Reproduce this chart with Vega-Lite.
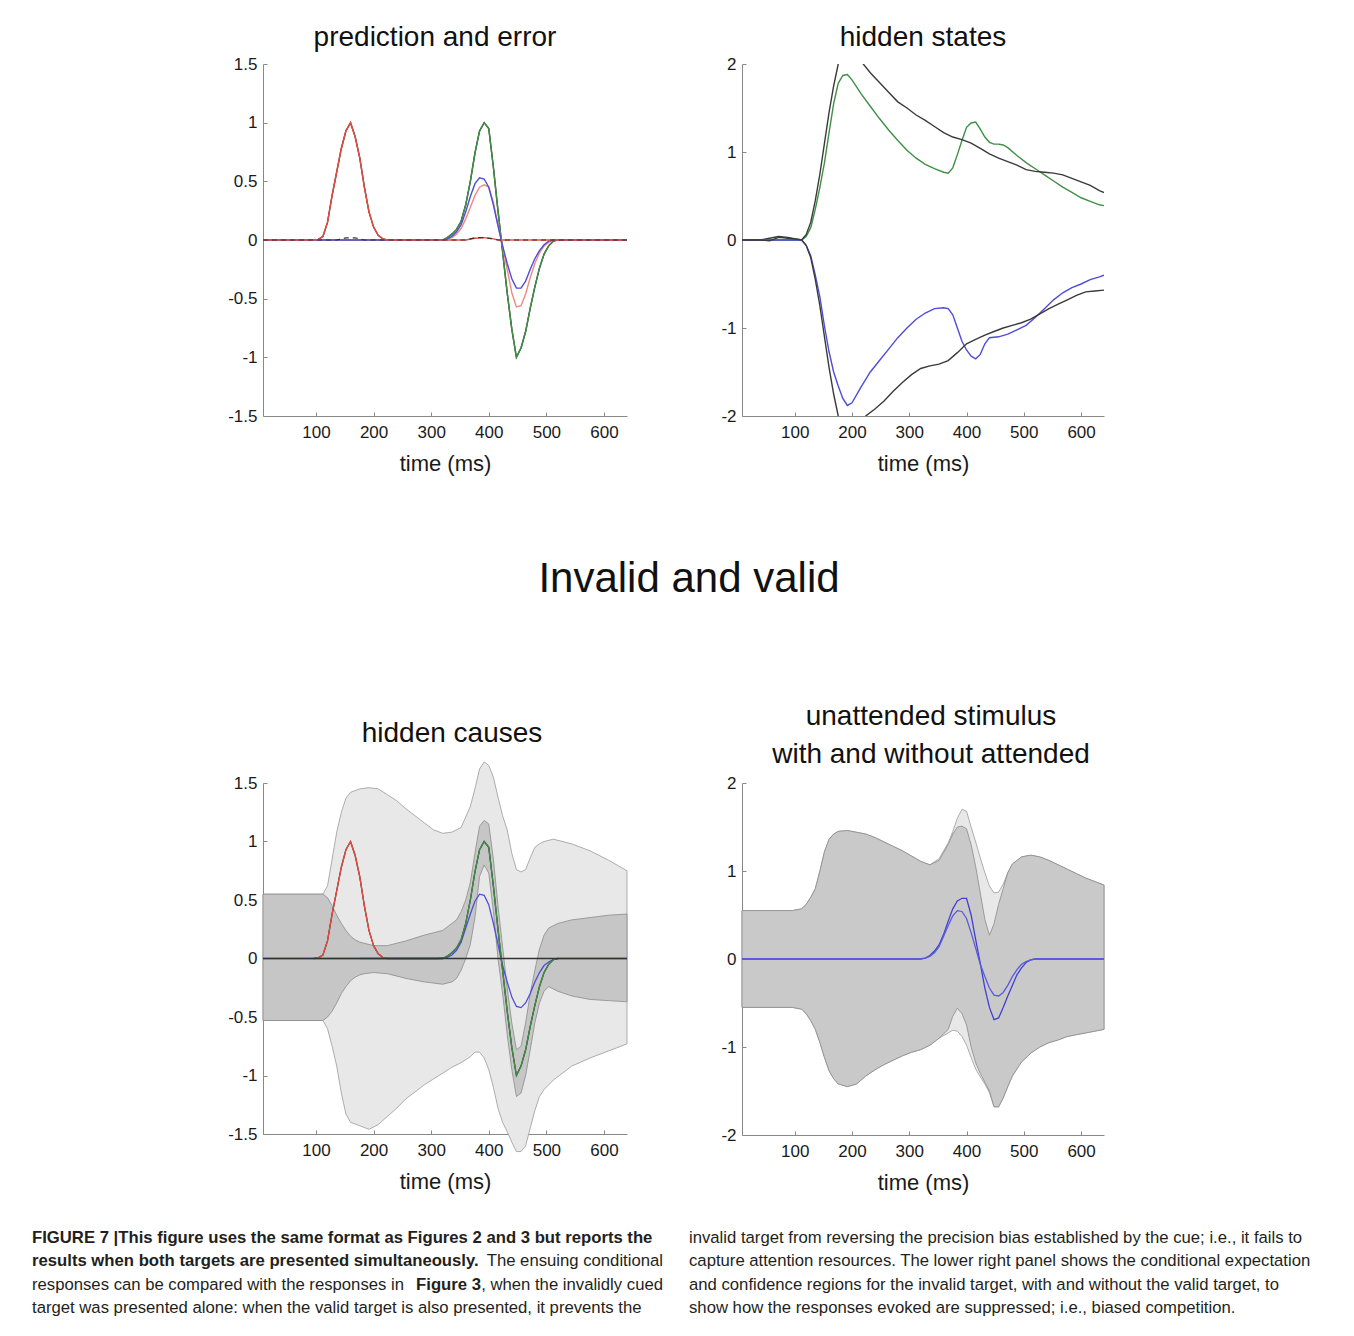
{
"$schema": "https://vega.github.io/schema/vega-lite/v6.json",
"padding": {"left": 32, "top": 24, "right": 0, "bottom": 0},
"background": "white",
"spacing": 24,
"config": {
  "view": {"stroke": null},
  "font": "Liberation Sans",
  "axis": {"domainColor": "#888888", "tickColor": "#888888", "tickSize": -4, "labelFontSize": 17, "labelColor": "#1a1a1a", "titleFontSize": 22, "titleFontWeight": "normal", "titleColor": "#1a1a1a", "grid": false, "labelFont": "Liberation Sans", "titleFont": "Liberation Sans"},
  "axisX": {"labelPadding": 12, "titlePadding": 13},
  "axisY": {"labelPadding": 10},
  "title": {"fontSize": 28, "fontWeight": "normal", "color": "#111111", "font": "Liberation Sans", "anchor": "middle", "frame": "group", "baseline": "alphabetic"},
  "text": {"font": "Liberation Sans"}
},
"datasets": {
"A": [
{"t":8,"s":"black","v":0},{"t":96,"s":"black","v":0},{"t":104,"s":"black","v":0.005},{"t":112,"s":"black","v":0.03},{"t":120,"s":"black","v":0.15},{"t":128,"s":"black","v":0.38},{"t":136,"s":"black","v":0.58},{"t":144,"s":"black","v":0.78},{"t":152,"s":"black","v":0.93},{"t":160,"s":"black","v":1.0},{"t":168,"s":"black","v":0.88},{"t":176,"s":"black","v":0.7},{"t":184,"s":"black","v":0.45},{"t":192,"s":"black","v":0.24},{"t":200,"s":"black","v":0.11},{"t":208,"s":"black","v":0.04},{"t":216,"s":"black","v":0.01},{"t":224,"s":"black","v":0},{"t":320,"s":"black","v":0},{"t":328,"s":"black","v":0.02},{"t":336,"s":"black","v":0.05},{"t":344,"s":"black","v":0.09},{"t":352,"s":"black","v":0.16},{"t":360,"s":"black","v":0.3},{"t":368,"s":"black","v":0.5},{"t":376,"s":"black","v":0.74},{"t":384,"s":"black","v":0.93},{"t":392,"s":"black","v":1.0},{"t":400,"s":"black","v":0.95},{"t":408,"s":"black","v":0.62},{"t":416,"s":"black","v":0.25},{"t":424,"s":"black","v":-0.1},{"t":432,"s":"black","v":-0.45},{"t":440,"s":"black","v":-0.76},{"t":448,"s":"black","v":-1.0},{"t":456,"s":"black","v":-0.92},{"t":464,"s":"black","v":-0.78},{"t":472,"s":"black","v":-0.58},{"t":480,"s":"black","v":-0.4},{"t":488,"s":"black","v":-0.24},{"t":496,"s":"black","v":-0.12},{"t":504,"s":"black","v":-0.05},{"t":512,"s":"black","v":-0.01},{"t":520,"s":"black","v":0},{"t":640,"s":"black","v":0},
{"t":8,"s":"green","v":0},{"t":320,"s":"green","v":0},{"t":328,"s":"green","v":0.02},{"t":336,"s":"green","v":0.05},{"t":344,"s":"green","v":0.09},{"t":352,"s":"green","v":0.16},{"t":360,"s":"green","v":0.3},{"t":368,"s":"green","v":0.5},{"t":376,"s":"green","v":0.74},{"t":384,"s":"green","v":0.93},{"t":392,"s":"green","v":1.0},{"t":400,"s":"green","v":0.95},{"t":408,"s":"green","v":0.62},{"t":416,"s":"green","v":0.25},{"t":424,"s":"green","v":-0.1},{"t":432,"s":"green","v":-0.45},{"t":440,"s":"green","v":-0.76},{"t":448,"s":"green","v":-1.0},{"t":456,"s":"green","v":-0.92},{"t":464,"s":"green","v":-0.78},{"t":472,"s":"green","v":-0.58},{"t":480,"s":"green","v":-0.4},{"t":488,"s":"green","v":-0.24},{"t":496,"s":"green","v":-0.12},{"t":504,"s":"green","v":-0.05},{"t":512,"s":"green","v":-0.01},{"t":520,"s":"green","v":0},{"t":640,"s":"green","v":0},
{"t":8,"s":"pink","v":0},{"t":320,"s":"pink","v":0},{"t":328,"s":"pink","v":0.01},{"t":336,"s":"pink","v":0.02},{"t":344,"s":"pink","v":0.05},{"t":352,"s":"pink","v":0.1},{"t":360,"s":"pink","v":0.18},{"t":368,"s":"pink","v":0.28},{"t":376,"s":"pink","v":0.38},{"t":384,"s":"pink","v":0.45},{"t":392,"s":"pink","v":0.47},{"t":400,"s":"pink","v":0.45},{"t":408,"s":"pink","v":0.32},{"t":416,"s":"pink","v":0.13},{"t":424,"s":"pink","v":-0.05},{"t":432,"s":"pink","v":-0.25},{"t":440,"s":"pink","v":-0.45},{"t":448,"s":"pink","v":-0.57},{"t":456,"s":"pink","v":-0.56},{"t":464,"s":"pink","v":-0.46},{"t":472,"s":"pink","v":-0.32},{"t":480,"s":"pink","v":-0.2},{"t":488,"s":"pink","v":-0.11},{"t":496,"s":"pink","v":-0.05},{"t":504,"s":"pink","v":-0.02},{"t":512,"s":"pink","v":0},{"t":640,"s":"pink","v":0},
{"t":8,"s":"blue","v":0},{"t":320,"s":"blue","v":0},{"t":328,"s":"blue","v":0.01},{"t":336,"s":"blue","v":0.03},{"t":344,"s":"blue","v":0.07},{"t":352,"s":"blue","v":0.13},{"t":360,"s":"blue","v":0.24},{"t":368,"s":"blue","v":0.37},{"t":376,"s":"blue","v":0.48},{"t":384,"s":"blue","v":0.53},{"t":392,"s":"blue","v":0.52},{"t":400,"s":"blue","v":0.45},{"t":408,"s":"blue","v":0.3},{"t":416,"s":"blue","v":0.12},{"t":424,"s":"blue","v":-0.05},{"t":432,"s":"blue","v":-0.2},{"t":440,"s":"blue","v":-0.33},{"t":448,"s":"blue","v":-0.41},{"t":456,"s":"blue","v":-0.41},{"t":464,"s":"blue","v":-0.35},{"t":472,"s":"blue","v":-0.25},{"t":480,"s":"blue","v":-0.16},{"t":488,"s":"blue","v":-0.09},{"t":496,"s":"blue","v":-0.04},{"t":504,"s":"blue","v":-0.01},{"t":512,"s":"blue","v":0},{"t":640,"s":"blue","v":0},
{"t":8,"s":"red","v":0},{"t":96,"s":"red","v":0},{"t":104,"s":"red","v":0.005},{"t":112,"s":"red","v":0.03},{"t":120,"s":"red","v":0.15},{"t":128,"s":"red","v":0.38},{"t":136,"s":"red","v":0.58},{"t":144,"s":"red","v":0.78},{"t":152,"s":"red","v":0.93},{"t":160,"s":"red","v":1.0},{"t":168,"s":"red","v":0.88},{"t":176,"s":"red","v":0.7},{"t":184,"s":"red","v":0.45},{"t":192,"s":"red","v":0.24},{"t":200,"s":"red","v":0.11},{"t":208,"s":"red","v":0.04},{"t":216,"s":"red","v":0.01},{"t":224,"s":"red","v":0},{"t":360,"s":"red","v":0},{"t":376,"s":"red","v":0.015},{"t":392,"s":"red","v":0.02},{"t":408,"s":"red","v":0.01},{"t":416,"s":"red","v":0},{"t":640,"s":"red","v":0},
{"t":8,"s":"err","v":0},{"t":136,"s":"err","v":0},{"t":144,"s":"err","v":0.01},{"t":152,"s":"err","v":0.018},{"t":168,"s":"err","v":0.018},{"t":176,"s":"err","v":0.008},{"t":184,"s":"err","v":0},{"t":360,"s":"err","v":0},{"t":368,"s":"err","v":0.01},{"t":376,"s":"err","v":0.02},{"t":392,"s":"err","v":0.02},{"t":408,"s":"err","v":0.01},{"t":416,"s":"err","v":0},{"t":640,"s":"err","v":0}
],
"B": [
{"t":8,"s":"cyan","v":0},{"t":112,"s":"cyan","v":0},
{"t":8,"s":"green","v":0},{"t":112,"s":"green","v":0},{"t":120,"s":"green","v":0.04},{"t":128,"s":"green","v":0.14},{"t":136,"s":"green","v":0.35},{"t":144,"s":"green","v":0.6},{"t":152,"s":"green","v":0.88},{"t":160,"s":"green","v":1.22},{"t":168,"s":"green","v":1.55},{"t":176,"s":"green","v":1.78},{"t":184,"s":"green","v":1.87},{"t":192,"s":"green","v":1.88},{"t":200,"s":"green","v":1.82},{"t":216,"s":"green","v":1.66},{"t":232,"s":"green","v":1.52},{"t":248,"s":"green","v":1.38},{"t":264,"s":"green","v":1.25},{"t":280,"s":"green","v":1.13},{"t":296,"s":"green","v":1.02},{"t":312,"s":"green","v":0.93},{"t":328,"s":"green","v":0.86},{"t":344,"s":"green","v":0.81},{"t":360,"s":"green","v":0.77},{"t":368,"s":"green","v":0.76},{"t":376,"s":"green","v":0.82},{"t":384,"s":"green","v":0.97},{"t":392,"s":"green","v":1.13},{"t":400,"s":"green","v":1.28},{"t":408,"s":"green","v":1.33},{"t":416,"s":"green","v":1.34},{"t":424,"s":"green","v":1.26},{"t":432,"s":"green","v":1.17},{"t":440,"s":"green","v":1.11},{"t":448,"s":"green","v":1.09},{"t":456,"s":"green","v":1.09},{"t":464,"s":"green","v":1.08},{"t":472,"s":"green","v":1.05},{"t":488,"s":"green","v":0.96},{"t":504,"s":"green","v":0.88},{"t":520,"s":"green","v":0.81},{"t":536,"s":"green","v":0.74},{"t":552,"s":"green","v":0.67},{"t":568,"s":"green","v":0.6},{"t":584,"s":"green","v":0.54},{"t":600,"s":"green","v":0.48},{"t":616,"s":"green","v":0.44},{"t":632,"s":"green","v":0.4},{"t":640,"s":"green","v":0.39},
{"t":8,"s":"blackU","v":0},{"t":40,"s":"blackU","v":0},{"t":56,"s":"blackU","v":0.02},{"t":72,"s":"blackU","v":0.04},{"t":88,"s":"blackU","v":0.03},{"t":104,"s":"blackU","v":0.01},{"t":112,"s":"blackU","v":0},{"t":120,"s":"blackU","v":0.06},{"t":128,"s":"blackU","v":0.2},{"t":136,"s":"blackU","v":0.45},{"t":144,"s":"blackU","v":0.75},{"t":152,"s":"blackU","v":1.1},{"t":160,"s":"blackU","v":1.45},{"t":168,"s":"blackU","v":1.75},{"t":176,"s":"blackU","v":2.0},{"t":184,"s":"blackU","v":2.25},{"t":192,"s":"blackU","v":2.4},{"t":200,"s":"blackU","v":2.4},{"t":208,"s":"blackU","v":2.25},{"t":216,"s":"blackU","v":2.03},{"t":232,"s":"blackU","v":1.9},{"t":248,"s":"blackU","v":1.79},{"t":264,"s":"blackU","v":1.68},{"t":280,"s":"blackU","v":1.57},{"t":296,"s":"blackU","v":1.5},{"t":312,"s":"blackU","v":1.42},{"t":328,"s":"blackU","v":1.36},{"t":344,"s":"blackU","v":1.29},{"t":360,"s":"blackU","v":1.22},{"t":376,"s":"blackU","v":1.17},{"t":392,"s":"blackU","v":1.14},{"t":408,"s":"blackU","v":1.1},{"t":424,"s":"blackU","v":1.04},{"t":440,"s":"blackU","v":0.98},{"t":456,"s":"blackU","v":0.93},{"t":472,"s":"blackU","v":0.89},{"t":488,"s":"blackU","v":0.85},{"t":504,"s":"blackU","v":0.8},{"t":520,"s":"blackU","v":0.78},{"t":536,"s":"blackU","v":0.77},{"t":552,"s":"blackU","v":0.76},{"t":568,"s":"blackU","v":0.74},{"t":584,"s":"blackU","v":0.7},{"t":600,"s":"blackU","v":0.66},{"t":616,"s":"blackU","v":0.62},{"t":632,"s":"blackU","v":0.56},{"t":640,"s":"blackU","v":0.54},
{"t":8,"s":"blue","v":0},{"t":112,"s":"blue","v":0},{"t":120,"s":"blue","v":-0.06},{"t":128,"s":"blue","v":-0.18},{"t":136,"s":"blue","v":-0.4},{"t":144,"s":"blue","v":-0.65},{"t":152,"s":"blue","v":-0.98},{"t":160,"s":"blue","v":-1.27},{"t":168,"s":"blue","v":-1.5},{"t":176,"s":"blue","v":-1.66},{"t":184,"s":"blue","v":-1.8},{"t":192,"s":"blue","v":-1.88},{"t":200,"s":"blue","v":-1.85},{"t":216,"s":"blue","v":-1.67},{"t":232,"s":"blue","v":-1.5},{"t":248,"s":"blue","v":-1.37},{"t":264,"s":"blue","v":-1.24},{"t":280,"s":"blue","v":-1.11},{"t":296,"s":"blue","v":-1.0},{"t":312,"s":"blue","v":-0.9},{"t":328,"s":"blue","v":-0.83},{"t":344,"s":"blue","v":-0.78},{"t":360,"s":"blue","v":-0.77},{"t":368,"s":"blue","v":-0.78},{"t":376,"s":"blue","v":-0.85},{"t":384,"s":"blue","v":-1.0},{"t":392,"s":"blue","v":-1.15},{"t":400,"s":"blue","v":-1.25},{"t":408,"s":"blue","v":-1.32},{"t":416,"s":"blue","v":-1.35},{"t":424,"s":"blue","v":-1.3},{"t":432,"s":"blue","v":-1.18},{"t":440,"s":"blue","v":-1.11},{"t":456,"s":"blue","v":-1.1},{"t":472,"s":"blue","v":-1.07},{"t":488,"s":"blue","v":-1.02},{"t":504,"s":"blue","v":-0.97},{"t":520,"s":"blue","v":-0.88},{"t":536,"s":"blue","v":-0.78},{"t":552,"s":"blue","v":-0.68},{"t":568,"s":"blue","v":-0.6},{"t":584,"s":"blue","v":-0.54},{"t":600,"s":"blue","v":-0.5},{"t":616,"s":"blue","v":-0.45},{"t":632,"s":"blue","v":-0.42},{"t":640,"s":"blue","v":-0.4},
{"t":8,"s":"blackD","v":0},{"t":40,"s":"blackD","v":0},{"t":56,"s":"blackD","v":-0.01},{"t":72,"s":"blackD","v":0.03},{"t":88,"s":"blackD","v":0.02},{"t":104,"s":"blackD","v":0.01},{"t":112,"s":"blackD","v":0},{"t":120,"s":"blackD","v":-0.06},{"t":128,"s":"blackD","v":-0.2},{"t":136,"s":"blackD","v":-0.45},{"t":144,"s":"blackD","v":-0.75},{"t":152,"s":"blackD","v":-1.1},{"t":160,"s":"blackD","v":-1.45},{"t":168,"s":"blackD","v":-1.75},{"t":176,"s":"blackD","v":-2.0},{"t":184,"s":"blackD","v":-2.25},{"t":192,"s":"blackD","v":-2.4},{"t":200,"s":"blackD","v":-2.45},{"t":216,"s":"blackD","v":-2.1},{"t":224,"s":"blackD","v":-2.0},{"t":240,"s":"blackD","v":-1.92},{"t":256,"s":"blackD","v":-1.83},{"t":272,"s":"blackD","v":-1.72},{"t":288,"s":"blackD","v":-1.62},{"t":304,"s":"blackD","v":-1.53},{"t":320,"s":"blackD","v":-1.46},{"t":336,"s":"blackD","v":-1.43},{"t":352,"s":"blackD","v":-1.41},{"t":368,"s":"blackD","v":-1.37},{"t":384,"s":"blackD","v":-1.28},{"t":400,"s":"blackD","v":-1.18},{"t":416,"s":"blackD","v":-1.13},{"t":432,"s":"blackD","v":-1.08},{"t":448,"s":"blackD","v":-1.04},{"t":464,"s":"blackD","v":-1.0},{"t":480,"s":"blackD","v":-0.97},{"t":496,"s":"blackD","v":-0.94},{"t":512,"s":"blackD","v":-0.9},{"t":528,"s":"blackD","v":-0.84},{"t":544,"s":"blackD","v":-0.78},{"t":560,"s":"blackD","v":-0.73},{"t":576,"s":"blackD","v":-0.68},{"t":592,"s":"blackD","v":-0.63},{"t":608,"s":"blackD","v":-0.59},{"t":624,"s":"blackD","v":-0.58},{"t":640,"s":"blackD","v":-0.57}
],
"C": [
{"t":8,"s":"blue","v":0},{"t":312,"s":"blue","v":0},{"t":320,"s":"blue","v":0.005},{"t":328,"s":"blue","v":0.01},{"t":336,"s":"blue","v":0.03},{"t":344,"s":"blue","v":0.07},{"t":352,"s":"blue","v":0.14},{"t":360,"s":"blue","v":0.26},{"t":368,"s":"blue","v":0.38},{"t":376,"s":"blue","v":0.49},{"t":384,"s":"blue","v":0.55},{"t":392,"s":"blue","v":0.54},{"t":400,"s":"blue","v":0.46},{"t":408,"s":"blue","v":0.3},{"t":416,"s":"blue","v":0.12},{"t":424,"s":"blue","v":-0.06},{"t":432,"s":"blue","v":-0.2},{"t":440,"s":"blue","v":-0.33},{"t":448,"s":"blue","v":-0.41},{"t":456,"s":"blue","v":-0.42},{"t":464,"s":"blue","v":-0.38},{"t":472,"s":"blue","v":-0.3},{"t":480,"s":"blue","v":-0.2},{"t":488,"s":"blue","v":-0.12},{"t":496,"s":"blue","v":-0.06},{"t":504,"s":"blue","v":-0.03},{"t":512,"s":"blue","v":-0.01},{"t":520,"s":"blue","v":0},{"t":640,"s":"blue","v":0},
{"t":96,"s":"black","v":0},{"t":104,"s":"black","v":0.005},{"t":112,"s":"black","v":0.03},{"t":120,"s":"black","v":0.15},{"t":128,"s":"black","v":0.38},{"t":136,"s":"black","v":0.58},{"t":144,"s":"black","v":0.78},{"t":152,"s":"black","v":0.93},{"t":160,"s":"black","v":1.0},{"t":168,"s":"black","v":0.88},{"t":176,"s":"black","v":0.7},{"t":184,"s":"black","v":0.45},{"t":192,"s":"black","v":0.24},{"t":200,"s":"black","v":0.11},{"t":208,"s":"black","v":0.04},{"t":216,"s":"black","v":0.01},{"t":224,"s":"black","v":0},{"t":320,"s":"black","v":0},{"t":328,"s":"black","v":0.02},{"t":336,"s":"black","v":0.05},{"t":344,"s":"black","v":0.09},{"t":352,"s":"black","v":0.16},{"t":360,"s":"black","v":0.3},{"t":368,"s":"black","v":0.5},{"t":376,"s":"black","v":0.74},{"t":384,"s":"black","v":0.93},{"t":392,"s":"black","v":1.0},{"t":400,"s":"black","v":0.95},{"t":408,"s":"black","v":0.62},{"t":416,"s":"black","v":0.25},{"t":424,"s":"black","v":-0.1},{"t":432,"s":"black","v":-0.45},{"t":440,"s":"black","v":-0.76},{"t":448,"s":"black","v":-1.0},{"t":456,"s":"black","v":-0.92},{"t":464,"s":"black","v":-0.78},{"t":472,"s":"black","v":-0.58},{"t":480,"s":"black","v":-0.4},{"t":488,"s":"black","v":-0.24},{"t":496,"s":"black","v":-0.12},{"t":504,"s":"black","v":-0.05},{"t":512,"s":"black","v":-0.01},{"t":520,"s":"black","v":0},
{"t":176,"s":"green","v":0},{"t":320,"s":"green","v":0},{"t":328,"s":"green","v":0.02},{"t":336,"s":"green","v":0.05},{"t":344,"s":"green","v":0.09},{"t":352,"s":"green","v":0.16},{"t":360,"s":"green","v":0.3},{"t":368,"s":"green","v":0.5},{"t":376,"s":"green","v":0.74},{"t":384,"s":"green","v":0.93},{"t":392,"s":"green","v":1.0},{"t":400,"s":"green","v":0.95},{"t":408,"s":"green","v":0.62},{"t":416,"s":"green","v":0.25},{"t":424,"s":"green","v":-0.1},{"t":432,"s":"green","v":-0.45},{"t":440,"s":"green","v":-0.76},{"t":448,"s":"green","v":-1.0},{"t":456,"s":"green","v":-0.92},{"t":464,"s":"green","v":-0.78},{"t":472,"s":"green","v":-0.58},{"t":480,"s":"green","v":-0.4},{"t":488,"s":"green","v":-0.24},{"t":496,"s":"green","v":-0.12},{"t":504,"s":"green","v":-0.05},{"t":512,"s":"green","v":-0.01},{"t":520,"s":"green","v":0},
{"t":96,"s":"red","v":0},{"t":104,"s":"red","v":0.005},{"t":112,"s":"red","v":0.03},{"t":120,"s":"red","v":0.15},{"t":128,"s":"red","v":0.38},{"t":136,"s":"red","v":0.58},{"t":144,"s":"red","v":0.78},{"t":152,"s":"red","v":0.93},{"t":160,"s":"red","v":1.0},{"t":168,"s":"red","v":0.88},{"t":176,"s":"red","v":0.7},{"t":184,"s":"red","v":0.45},{"t":192,"s":"red","v":0.24},{"t":200,"s":"red","v":0.11},{"t":208,"s":"red","v":0.04},{"t":216,"s":"red","v":0.01},{"t":224,"s":"red","v":0},
{"t":8,"s":"zero","v":0},{"t":640,"s":"zero","v":0}
],
"Clight": [
{"t":8,"lo":-0.53,"hi":0.55},{"t":112,"lo":-0.53,"hi":0.55},{"t":120,"lo":-0.6,"hi":0.62},{"t":128,"lo":-0.75,"hi":0.85},{"t":136,"lo":-0.92,"hi":1.08},{"t":144,"lo":-1.15,"hi":1.25},{"t":152,"lo":-1.33,"hi":1.37},{"t":160,"lo":-1.4,"hi":1.42},{"t":176,"lo":-1.43,"hi":1.45},{"t":192,"lo":-1.46,"hi":1.46},{"t":208,"lo":-1.42,"hi":1.45},{"t":224,"lo":-1.35,"hi":1.4},{"t":240,"lo":-1.28,"hi":1.35},{"t":256,"lo":-1.2,"hi":1.28},{"t":272,"lo":-1.14,"hi":1.22},{"t":288,"lo":-1.08,"hi":1.16},{"t":304,"lo":-1.03,"hi":1.1},{"t":320,"lo":-0.98,"hi":1.07},{"t":336,"lo":-0.93,"hi":1.08},{"t":352,"lo":-0.89,"hi":1.12},{"t":368,"lo":-0.84,"hi":1.3},{"t":376,"lo":-0.8,"hi":1.45},{"t":384,"lo":-0.8,"hi":1.62},{"t":392,"lo":-0.85,"hi":1.68},{"t":400,"lo":-0.95,"hi":1.65},{"t":408,"lo":-1.1,"hi":1.55},{"t":416,"lo":-1.28,"hi":1.38},{"t":424,"lo":-1.4,"hi":1.22},{"t":432,"lo":-1.48,"hi":1.1},{"t":440,"lo":-1.57,"hi":0.9},{"t":448,"lo":-1.65,"hi":0.76},{"t":456,"lo":-1.65,"hi":0.74},{"t":464,"lo":-1.6,"hi":0.76},{"t":472,"lo":-1.45,"hi":0.86},{"t":480,"lo":-1.3,"hi":0.95},{"t":488,"lo":-1.18,"hi":0.98},{"t":496,"lo":-1.12,"hi":1.0},{"t":512,"lo":-1.04,"hi":1.02},{"t":544,"lo":-0.92,"hi":0.98},{"t":576,"lo":-0.85,"hi":0.92},{"t":608,"lo":-0.79,"hi":0.84},{"t":640,"lo":-0.73,"hi":0.75}
],
"Cdark": [
{"t":8,"lo":-0.53,"hi":0.55},{"t":112,"lo":-0.53,"hi":0.55},{"t":120,"lo":-0.5,"hi":0.52},{"t":128,"lo":-0.45,"hi":0.45},{"t":136,"lo":-0.38,"hi":0.37},{"t":144,"lo":-0.3,"hi":0.3},{"t":152,"lo":-0.24,"hi":0.24},{"t":160,"lo":-0.19,"hi":0.19},{"t":168,"lo":-0.16,"hi":0.16},{"t":176,"lo":-0.14,"hi":0.14},{"t":184,"lo":-0.13,"hi":0.13},{"t":200,"lo":-0.12,"hi":0.11},{"t":224,"lo":-0.13,"hi":0.11},{"t":256,"lo":-0.17,"hi":0.15},{"t":288,"lo":-0.2,"hi":0.2},{"t":320,"lo":-0.22,"hi":0.24},{"t":336,"lo":-0.2,"hi":0.3},{"t":344,"lo":-0.17,"hi":0.33},{"t":352,"lo":-0.1,"hi":0.4},{"t":360,"lo":0.0,"hi":0.5},{"t":368,"lo":0.12,"hi":0.65},{"t":376,"lo":0.35,"hi":0.9},{"t":384,"lo":0.7,"hi":1.13},{"t":392,"lo":0.8,"hi":1.18},{"t":400,"lo":0.73,"hi":1.15},{"t":408,"lo":0.4,"hi":0.85},{"t":416,"lo":0.0,"hi":0.45},{"t":424,"lo":-0.3,"hi":0.1},{"t":432,"lo":-0.65,"hi":-0.25},{"t":440,"lo":-0.95,"hi":-0.55},{"t":448,"lo":-1.18,"hi":-0.78},{"t":456,"lo":-1.15,"hi":-0.75},{"t":464,"lo":-1.0,"hi":-0.55},{"t":472,"lo":-0.78,"hi":-0.3},{"t":480,"lo":-0.55,"hi":-0.1},{"t":488,"lo":-0.38,"hi":0.08},{"t":496,"lo":-0.28,"hi":0.2},{"t":504,"lo":-0.24,"hi":0.26},{"t":520,"lo":-0.28,"hi":0.3},{"t":544,"lo":-0.32,"hi":0.33},{"t":576,"lo":-0.35,"hi":0.35},{"t":608,"lo":-0.36,"hi":0.37},{"t":640,"lo":-0.37,"hi":0.38}
],
"D": [
{"t":8,"s":"blue1","v":0},{"t":320,"s":"blue1","v":0},{"t":328,"s":"blue1","v":0.01},{"t":336,"s":"blue1","v":0.04},{"t":344,"s":"blue1","v":0.09},{"t":352,"s":"blue1","v":0.16},{"t":360,"s":"blue1","v":0.28},{"t":368,"s":"blue1","v":0.43},{"t":376,"s":"blue1","v":0.57},{"t":384,"s":"blue1","v":0.66},{"t":392,"s":"blue1","v":0.69},{"t":400,"s":"blue1","v":0.69},{"t":408,"s":"blue1","v":0.5},{"t":416,"s":"blue1","v":0.22},{"t":424,"s":"blue1","v":-0.05},{"t":432,"s":"blue1","v":-0.33},{"t":440,"s":"blue1","v":-0.55},{"t":448,"s":"blue1","v":-0.69},{"t":456,"s":"blue1","v":-0.67},{"t":464,"s":"blue1","v":-0.55},{"t":472,"s":"blue1","v":-0.42},{"t":480,"s":"blue1","v":-0.3},{"t":488,"s":"blue1","v":-0.18},{"t":496,"s":"blue1","v":-0.1},{"t":504,"s":"blue1","v":-0.04},{"t":512,"s":"blue1","v":-0.01},{"t":520,"s":"blue1","v":0},{"t":640,"s":"blue1","v":0},
{"t":8,"s":"blue2","v":0},{"t":312,"s":"blue2","v":0},{"t":320,"s":"blue2","v":0.005},{"t":328,"s":"blue2","v":0.01},{"t":336,"s":"blue2","v":0.03},{"t":344,"s":"blue2","v":0.07},{"t":352,"s":"blue2","v":0.14},{"t":360,"s":"blue2","v":0.26},{"t":368,"s":"blue2","v":0.38},{"t":376,"s":"blue2","v":0.49},{"t":384,"s":"blue2","v":0.55},{"t":392,"s":"blue2","v":0.54},{"t":400,"s":"blue2","v":0.46},{"t":408,"s":"blue2","v":0.3},{"t":416,"s":"blue2","v":0.12},{"t":424,"s":"blue2","v":-0.06},{"t":432,"s":"blue2","v":-0.2},{"t":440,"s":"blue2","v":-0.33},{"t":448,"s":"blue2","v":-0.41},{"t":456,"s":"blue2","v":-0.42},{"t":464,"s":"blue2","v":-0.38},{"t":472,"s":"blue2","v":-0.3},{"t":480,"s":"blue2","v":-0.2},{"t":488,"s":"blue2","v":-0.12},{"t":496,"s":"blue2","v":-0.06},{"t":504,"s":"blue2","v":-0.03},{"t":512,"s":"blue2","v":-0.01},{"t":520,"s":"blue2","v":0},{"t":640,"s":"blue2","v":0}
],
"Dlight": [
{"t":8,"lo":-0.55,"hi":0.55},{"t":96,"lo":-0.55,"hi":0.55},{"t":112,"lo":-0.57,"hi":0.57},{"t":120,"lo":-0.62,"hi":0.62},{"t":128,"lo":-0.7,"hi":0.7},{"t":136,"lo":-0.8,"hi":0.8},{"t":144,"lo":-0.95,"hi":1.0},{"t":152,"lo":-1.12,"hi":1.22},{"t":160,"lo":-1.27,"hi":1.36},{"t":168,"lo":-1.36,"hi":1.42},{"t":176,"lo":-1.42,"hi":1.45},{"t":192,"lo":-1.45,"hi":1.46},{"t":208,"lo":-1.42,"hi":1.44},{"t":224,"lo":-1.33,"hi":1.42},{"t":240,"lo":-1.26,"hi":1.38},{"t":256,"lo":-1.2,"hi":1.33},{"t":272,"lo":-1.15,"hi":1.28},{"t":288,"lo":-1.1,"hi":1.23},{"t":304,"lo":-1.06,"hi":1.17},{"t":320,"lo":-1.03,"hi":1.11},{"t":336,"lo":-0.98,"hi":1.07},{"t":352,"lo":-0.9,"hi":1.14},{"t":368,"lo":-0.84,"hi":1.32},{"t":376,"lo":-0.81,"hi":1.45},{"t":384,"lo":-0.82,"hi":1.6},{"t":392,"lo":-0.88,"hi":1.7},{"t":400,"lo":-0.98,"hi":1.68},{"t":408,"lo":-1.12,"hi":1.5},{"t":416,"lo":-1.25,"hi":1.33},{"t":424,"lo":-1.34,"hi":1.15},{"t":432,"lo":-1.42,"hi":0.98},{"t":440,"lo":-1.52,"hi":0.83},{"t":448,"lo":-1.68,"hi":0.75},{"t":456,"lo":-1.68,"hi":0.76},{"t":464,"lo":-1.58,"hi":0.85},{"t":472,"lo":-1.45,"hi":0.98},{"t":480,"lo":-1.33,"hi":1.08},{"t":496,"lo":-1.17,"hi":1.16},{"t":512,"lo":-1.07,"hi":1.18},{"t":528,"lo":-1.0,"hi":1.16},{"t":544,"lo":-0.95,"hi":1.12},{"t":560,"lo":-0.92,"hi":1.07},{"t":576,"lo":-0.88,"hi":1.02},{"t":592,"lo":-0.86,"hi":0.97},{"t":608,"lo":-0.84,"hi":0.92},{"t":624,"lo":-0.82,"hi":0.88},{"t":640,"lo":-0.8,"hi":0.84}
],
"Ddark": [
{"t":8,"lo":-0.55,"hi":0.55},{"t":96,"lo":-0.55,"hi":0.55},{"t":112,"lo":-0.57,"hi":0.57},{"t":120,"lo":-0.62,"hi":0.62},{"t":128,"lo":-0.7,"hi":0.7},{"t":136,"lo":-0.8,"hi":0.8},{"t":144,"lo":-0.95,"hi":1.0},{"t":152,"lo":-1.12,"hi":1.22},{"t":160,"lo":-1.27,"hi":1.36},{"t":168,"lo":-1.36,"hi":1.42},{"t":176,"lo":-1.42,"hi":1.45},{"t":192,"lo":-1.45,"hi":1.46},{"t":208,"lo":-1.42,"hi":1.44},{"t":224,"lo":-1.33,"hi":1.42},{"t":240,"lo":-1.26,"hi":1.38},{"t":256,"lo":-1.2,"hi":1.33},{"t":272,"lo":-1.15,"hi":1.28},{"t":288,"lo":-1.1,"hi":1.23},{"t":304,"lo":-1.06,"hi":1.17},{"t":320,"lo":-1.03,"hi":1.11},{"t":336,"lo":-0.98,"hi":1.07},{"t":352,"lo":-0.9,"hi":1.12},{"t":368,"lo":-0.8,"hi":1.3},{"t":376,"lo":-0.65,"hi":1.42},{"t":384,"lo":-0.56,"hi":1.5},{"t":392,"lo":-0.62,"hi":1.51},{"t":400,"lo":-0.75,"hi":1.48},{"t":408,"lo":-1.0,"hi":1.3},{"t":416,"lo":-1.18,"hi":1.05},{"t":424,"lo":-1.3,"hi":0.75},{"t":432,"lo":-1.4,"hi":0.45},{"t":440,"lo":-1.5,"hi":0.27},{"t":448,"lo":-1.68,"hi":0.4},{"t":456,"lo":-1.68,"hi":0.62},{"t":464,"lo":-1.58,"hi":0.8},{"t":472,"lo":-1.45,"hi":0.98},{"t":480,"lo":-1.33,"hi":1.08},{"t":496,"lo":-1.17,"hi":1.16},{"t":512,"lo":-1.07,"hi":1.18},{"t":528,"lo":-1.0,"hi":1.16},{"t":544,"lo":-0.95,"hi":1.12},{"t":560,"lo":-0.92,"hi":1.07},{"t":576,"lo":-0.88,"hi":1.02},{"t":592,"lo":-0.86,"hi":0.97},{"t":608,"lo":-0.84,"hi":0.92},{"t":624,"lo":-0.82,"hi":0.88},{"t":640,"lo":-0.8,"hi":0.84}
],
"caption": [
{"col":"L","line":1,"a":"s","b":1,"text":"FIGURE 7 |This figure uses the same format as Figures 2 and 3 but reports the"},
{"col":"L","line":2,"a":"s","b":1,"text":"results when both targets are presented simultaneously."},
{"col":"L","line":2,"a":"e","b":0,"text":"The ensuing conditional"},
{"col":"L","line":3,"a":"s","b":0,"text":"responses can be compared with the responses in"},
{"col":"L","line":3,"a":"f","b":1,"text":"Figure 3"},
{"col":"L","line":3,"a":"e","b":0,"text":", when the invalidly cued"},
{"col":"L","line":4,"a":"s","b":0,"text":"target was presented alone: when the valid target is also presented, it prevents the"},
{"col":"R","line":1,"a":"s","b":0,"text":"invalid target from reversing the precision bias established by the cue; i.e., it fails to"},
{"col":"R","line":2,"a":"s","b":0,"text":"capture attention resources. The lower right panel shows the conditional expectation"},
{"col":"R","line":3,"a":"s","b":0,"text":"and confidence regions for the invalid target, with and without the valid target, to"},
{"col":"R","line":4,"a":"s","b":0,"text":"show how the responses evoked are suppressed; i.e., biased competition."}
]
},
"vconcat": [
{
 "spacing": 90,
 "hconcat": [
  {"width": 105, "height": 10, "data": {"values": []}, "mark": "point", "encoding": {}},
  {
   "title": {"text": "prediction and error", "offset": 3, "dx": -10},
   "width": 364, "height": 352,
   "data": {"name": "A"},
   "encoding": {
     "x": {"field": "t", "type": "quantitative", "scale": {"domain": [8, 640], "nice": false, "zero": false}, "axis": {"title": "time (ms)", "values": [100,200,300,400,500,600], "labelFlush": false}},
     "y": {"field": "v", "type": "quantitative", "scale": {"domain": [-1.5, 1.5], "nice": false, "zero": false}, "axis": {"title": null, "values": [-1.5,-1,-0.5,0,0.5,1,1.5], "labelExpr": "datum.value + ''"}}
   },
   "layer": [
     {"transform": [{"filter": "datum.s != 'err'"}], "mark": {"type": "line", "strokeWidth": 1.4},
      "encoding": {"color": {"field": "s", "type": "nominal", "legend": null, "sort": null, "scale": {"domain": ["black","blackU","blackD","err","green","pink","blue","red","zero","cyan","blue1","blue2"], "range": ["#2b2b2b","#3a3a3a","#3a3a3a","#333333","#3f8f45","#ee8a80","#4d4dd8","#ec4a40","#333333","#8fc9cf","#4040d0","#5a5ae0"]}}}},
     {"transform": [{"filter": "datum.s == 'err'"}], "mark": {"type": "line", "strokeWidth": 1.2, "color": "#333333", "strokeDash": [5, 4]}}
   ]
  },
  {
   "title": {"text": "hidden states", "offset": 3, "dx": 0},
   "width": 362, "height": 352,
   "data": {"name": "B"},
   "mark": {"type": "line", "strokeWidth": 1.4, "clip": true},
   "encoding": {
     "x": {"field": "t", "type": "quantitative", "scale": {"domain": [8, 640], "nice": false, "zero": false}, "axis": {"title": "time (ms)", "values": [100,200,300,400,500,600], "labelFlush": false}},
     "y": {"field": "v", "type": "quantitative", "scale": {"domain": [-2, 2], "nice": false, "zero": false}, "axis": {"title": null, "values": [-2,-1,0,1,2], "labelExpr": "datum.value + ''"}},
     "color": {"field": "s", "type": "nominal", "legend": null, "sort": null, "scale": {"domain": ["black","blackU","blackD","err","green","pink","blue","red","zero","cyan","blue1","blue2"], "range": ["#2b2b2b","#3a3a3a","#3a3a3a","#333333","#4a9450","#ee8a80","#4d4dd8","#ec4a40","#333333","#8fc9cf","#4040d0","#5a5ae0"]}}
   }
  }
 ]
},
{
 "width": 1314, "height": 181,
 "data": {"values": [{"label": "Invalid and valid"}]},
 "mark": {"type": "text", "fontSize": 42, "baseline": "middle", "align": "center", "dy": -10, "color": "#111111"},
 "encoding": {"text": {"field": "label"}}
},
{
 "spacing": 90,
 "hconcat": [
  {"width": 105, "height": 10, "data": {"values": []}, "mark": "point", "encoding": {}},
  {
   "title": {"text": "hidden causes", "offset": 12, "dx": 7},
   "width": 364, "height": 351,
   "encoding": {
     "x": {"field": "t", "type": "quantitative", "scale": {"domain": [8, 640], "nice": false, "zero": false}, "axis": {"title": "time (ms)", "values": [100,200,300,400,500,600], "labelFlush": false}}
   },
   "layer": [
     {"data": {"name": "Clight"}, "mark": {"type": "area", "color": "#e8e8e8", "stroke": "#9a9a9a", "strokeWidth": 0.8, "opacity": 1},
      "encoding": {"y": {"field": "lo", "type": "quantitative", "scale": {"domain": [-1.5, 1.5], "nice": false, "zero": false}, "axis": {"title": null, "values": [-1.5,-1,-0.5,0,0.5,1,1.5], "labelExpr": "datum.value + ''"}}, "y2": {"field": "hi"}}},
     {"data": {"name": "Cdark"}, "mark": {"type": "area", "color": "#c6c6c6", "stroke": "#8a8a8a", "strokeWidth": 0.8, "opacity": 1},
      "encoding": {"y": {"field": "lo", "type": "quantitative"}, "y2": {"field": "hi"}}},
     {"data": {"name": "C"}, "mark": {"type": "line", "strokeWidth": 1.3},
      "encoding": {"y": {"field": "v", "type": "quantitative"},
        "color": {"field": "s", "type": "nominal", "legend": null, "sort": null, "scale": {"domain": ["black","blackU","blackD","err","green","pink","blue","red","zero","cyan","blue1","blue2"], "range": ["#2b2b2b","#3a3a3a","#3a3a3a","#333333","#3f8f45","#ee8a80","#4d4dd8","#ec4a40","#333333","#8fc9cf","#4040d0","#5a5ae0"]}}}}
   ]
  },
  {
   "title": {"text": ["unattended stimulus", "with and without attended"], "offset": 5, "lineHeight": 38, "dx": 8},
   "width": 362, "height": 352,
   "encoding": {
     "x": {"field": "t", "type": "quantitative", "scale": {"domain": [8, 640], "nice": false, "zero": false}, "axis": {"title": "time (ms)", "values": [100,200,300,400,500,600], "labelFlush": false}}
   },
   "layer": [
     {"data": {"name": "Dlight"}, "mark": {"type": "area", "color": "#e8e8e8", "stroke": "#9a9a9a", "strokeWidth": 0.8, "opacity": 1},
      "encoding": {"y": {"field": "lo", "type": "quantitative", "scale": {"domain": [-2, 2], "nice": false, "zero": false}, "axis": {"title": null, "values": [-2,-1,0,1,2], "labelExpr": "datum.value + ''"}}, "y2": {"field": "hi"}}},
     {"data": {"name": "Ddark"}, "mark": {"type": "area", "color": "#c9c9c9", "stroke": "#8a8a8a", "strokeWidth": 0.8, "opacity": 1},
      "encoding": {"y": {"field": "lo", "type": "quantitative"}, "y2": {"field": "hi"}}},
     {"data": {"name": "D"}, "mark": {"type": "line", "strokeWidth": 1.3},
      "encoding": {"y": {"field": "v", "type": "quantitative"},
        "color": {"field": "s", "type": "nominal", "legend": null, "sort": null, "scale": {"domain": ["black","blackU","blackD","err","green","pink","blue","red","zero","cyan","blue1","blue2"], "range": ["#2b2b2b","#3a3a3a","#3a3a3a","#333333","#3f8f45","#ee8a80","#4d4dd8","#ec4a40","#333333","#8fc9cf","#4040d0","#5a5ae0"]}}}}
   ]
  }
 ]
},
{
 "width": 1288, "height": 112,
 "data": {"name": "caption"},
 "encoding": {
   "y": {"field": "line", "type": "ordinal", "scale": {"type": "band", "domain": [1,2,3,4], "paddingInner": 0, "paddingOuter": 0.4}, "axis": null},
   "text": {"field": "text"}
 },
 "layer": [
   {"transform": [{"filter": "datum.a == 's' && datum.b == 0"}], "mark": {"type": "text", "align": "left", "baseline": "middle", "fontSize": 16.7, "color": "#231f20"},
    "encoding": {"x": {"field": "col", "type": "nominal", "scale": {"type": "band", "domain": ["L","R"], "paddingInner": 0.0396, "paddingOuter": 0}, "axis": null, "bandPosition": 0}}},
   {"transform": [{"filter": "datum.a == 's' && datum.b == 1"}], "mark": {"type": "text", "align": "left", "baseline": "middle", "fontSize": 16.7, "fontWeight": "bold", "color": "#231f20"},
    "encoding": {"x": {"field": "col", "type": "nominal", "axis": null, "bandPosition": 0}}},
   {"transform": [{"filter": "datum.a == 'e'"}], "mark": {"type": "text", "align": "right", "baseline": "middle", "fontSize": 16.7, "color": "#231f20"},
    "encoding": {"x": {"field": "col", "type": "nominal", "axis": null, "bandPosition": 1}}},
   {"transform": [{"filter": "datum.a == 'f'"}], "mark": {"type": "text", "align": "right", "baseline": "middle", "fontSize": 16.7, "fontWeight": "bold", "dx": -182, "color": "#231f20"},
    "encoding": {"x": {"field": "col", "type": "nominal", "axis": null, "bandPosition": 1}}}
 ]
}
]
}
